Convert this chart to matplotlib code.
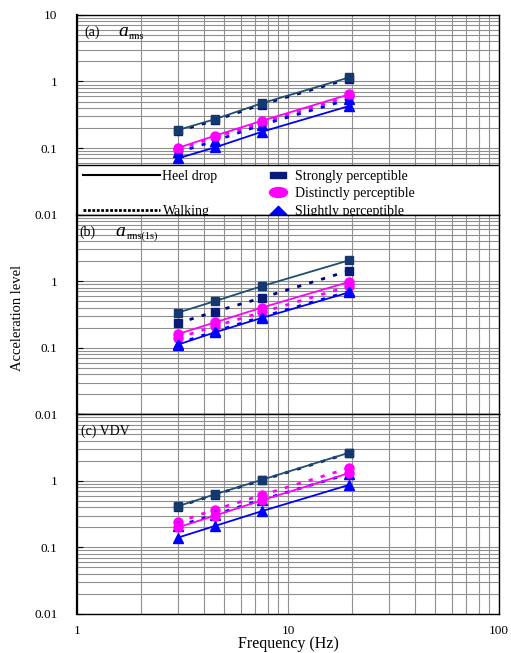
import numpy as np
import matplotlib
matplotlib.use("Agg")
import matplotlib.pyplot as plt
import matplotlib.lines as mlines
import matplotlib.patches as mpatches
from matplotlib.path import Path
from matplotlib.ticker import FixedLocator, NullFormatter, LogLocator

plt.rcParams.update({
    "font.family": "serif",
    "font.serif": ["Liberation Serif", "DejaVu Serif"],
    "mathtext.fontset": "stix",
})

# =============================
#  Data
# =============================
freq = [3, 4.5, 7.5, 19.5]

a_heel_strong = [0.186, 0.271, 0.47, 1.15]
a_walk_strong = [0.18, 0.26, 0.45, 1.10]
a_heel_dist = [0.10, 0.153, 0.256, 0.64]
a_walk_dist = [0.095, 0.145, 0.24, 0.60]
a_heel_slight = [0.070, 0.102, 0.175, 0.428]
a_walk_slight = [0.086, 0.128, 0.223, 0.54]

b_heel_strong = [0.336, 0.50, 0.84, 2.06]
b_walk_strong = [0.233, 0.348, 0.56, 1.44]
b_heel_dist = [0.16, 0.24, 0.40, 0.975]
b_walk_dist = [0.14, 0.21, 0.34, 0.84]
b_heel_slight = [0.111, 0.17, 0.28, 0.68]
b_walk_slight = [0.115, 0.176, 0.29, 0.70]

c_heel_strong = [0.415, 0.627, 1.035, 2.65]
c_walk_strong = [0.41, 0.62, 1.02, 2.62]
c_heel_dist = [0.20, 0.30, 0.51, 1.31]
c_walk_dist = [0.24, 0.37, 0.61, 1.56]
c_heel_slight = [0.14, 0.21, 0.35, 0.87]
c_walk_slight = [0.21, 0.31, 0.52, 1.28]

# panel label pieces: (prefix, symbol, subscript)
panel_titles = [("(a)", "a", "rms"), ("(b)", "a", "rms(1s)"), ("(c) VDV", "", "")]
y_ticks = [0.01, 0.1, 1, 10]
y_tick_labels = ["0.01", "0.1", "1", "10"]
x_ticks = [1, 10, 100]
x_tick_labels = ["1", "10", "100"]

panels = [
    (a_heel_strong, a_walk_strong, a_heel_dist, a_walk_dist, a_heel_slight, a_walk_slight),
    (b_heel_strong, b_walk_strong, b_heel_dist, b_walk_dist, b_heel_slight, b_walk_slight),
    (c_heel_strong, c_walk_strong, c_heel_dist, c_walk_dist, c_heel_slight, c_walk_slight),
]

# =============================
#  Styles
# =============================
col_strong_line = "#1F4E6E"
col_strong_walk = "#000080"
col_strong_mk = "#0A1A78"
col_strong_mk_heel = "#15386E"
col_dist = "#FF00FF"
col_slight = "#0000FF"
dash = (0, (1.5, 3.0))
ms = 6

fig = plt.figure(figsize=(5.11, 6.53), dpi=100)
left, width = 77 / 511, 422 / 511
h = 199.7 / 653
bottom_c = 1 - 614 / 653
axes = [fig.add_axes([left, bottom_c + (2 - i) * h, width, h]) for i in range(3)]

title_x = [(0.017, 0.097, 0.123), (0.005, 0.092, 0.118), (0.010, 0, 0)]

for i, ax in enumerate(axes):
    hs, ws, hd, wd, hsl, wsl = panels[i]
    ax.set_xscale("log")
    ax.set_yscale("log")
    ax.set_xlim(1, 100)
    ax.set_ylim(0.01, 10)

    ax.plot(freq, ws, linestyle=dash, lw=2, color=col_strong_walk,
            marker="s", ms=ms, mfc=col_strong_mk, mec=col_strong_mk, zorder=4)
    ax.plot(freq, hs, "-", lw=1.3, color=col_strong_line,
            marker="s", ms=ms, mfc=col_strong_mk_heel, mec=col_strong_mk_heel, zorder=5)
    ax.plot(freq, wd, linestyle=dash, lw=2, color=col_dist,
            marker="o", ms=ms + 0.5, mfc=col_dist, mec=col_dist, zorder=4)
    ax.plot(freq, hd, "-", lw=1.3, color=col_dist,
            marker="o", ms=ms + 0.5, mfc=col_dist, mec=col_dist, zorder=5)
    ax.plot(freq, wsl, linestyle=dash, lw=2, color=col_slight,
            marker="^", ms=ms + 0.5, mfc=col_slight, mec=col_slight, zorder=4)
    ax.plot(freq, hsl, "-", lw=1.3, color=col_slight,
            marker="^", ms=ms + 0.5, mfc=col_slight, mec=col_slight, zorder=5)

    ax.yaxis.set_major_locator(FixedLocator(y_ticks))
    labels = list(y_tick_labels) if i == 0 else y_tick_labels[:3] + [""]
    ax.set_yticklabels(labels)
    ax.yaxis.set_minor_locator(LogLocator(base=10, subs=np.arange(2, 10)))
    ax.yaxis.set_minor_formatter(NullFormatter())
    ax.xaxis.set_major_locator(FixedLocator(x_ticks))
    ax.xaxis.set_minor_locator(LogLocator(base=10, subs=np.arange(2, 10)))
    ax.xaxis.set_minor_formatter(NullFormatter())
    if i == 2:
        ax.set_xticklabels(x_tick_labels)
    else:
        ax.set_xticklabels([])

    ax.tick_params(axis="y", which="major", direction="in", length=4, pad=14, labelsize=9.5)
    ax.tick_params(axis="x", which="major", length=0, pad=8, labelsize=9.5)
    ax.tick_params(which="minor", length=0)
    ax.grid(which="both", color="#8f8f8f", lw=0.8, zorder=0)
    ax.set_axisbelow(True)
    ax.spines["left"].set_linewidth(1.6)
    for s in ["top", "right", "bottom"]:
        ax.spines[s].set_linewidth(1.0)

    pre, sym, sub = panel_titles[i]
    x0, x1, x2 = title_x[i]
    ax.text(x0, 0.895, pre, transform=ax.transAxes, fontsize=10,
            ha="left", va="baseline", zorder=10)
    if sym:
        ax.text(x1, 0.895, sym, transform=ax.transAxes, fontsize=14, style="italic",
                ha="left", va="baseline", zorder=10)
        ax.text(x2, 0.877, sub, transform=ax.transAxes, fontsize=7.5,
                ha="left", va="baseline", zorder=10)

# =============================
#  Legend (panel a)
# =============================
ax = axes[0]
ax.add_patch(mpatches.Rectangle((0, 0), 1, 0.248, transform=ax.transAxes,
                                facecolor="white", edgecolor="black", lw=1.0, zorder=8))

rect_path = Path([(-1, -0.45), (1, -0.45), (1, 0.45), (-1, 0.45), (-1, -0.45)], closed=True)
tri_path = Path([(-1, -0.5), (1, -0.5), (0, 0.5), (-1, -0.5)], closed=True)
circ = Path.unit_circle()
ell_path = Path(circ.vertices * np.array([1.0, 0.55]), circ.codes)

h_heel = mlines.Line2D([], [], color="black", lw=1.5, ls="-")
h_blank = mlines.Line2D([], [], color="none")
h_walk = mlines.Line2D([], [], color="black", lw=2.0, ls=(0, (1.0, 0.6)))
leg1 = ax.legend([h_heel, h_blank, h_walk], ["Heel drop", "", "Walking"],
                 loc="upper left", bbox_to_anchor=(0.015, 0.225), frameon=False,
                 fontsize=10, handlelength=5.5, handletextpad=0.2, labelspacing=0.32,
                 borderpad=0, borderaxespad=0)
leg1.set_zorder(9)
ax.add_artist(leg1)

m_strong = mlines.Line2D([], [], ls="none", marker=rect_path, ms=11, color=col_strong_mk)
m_dist = mlines.Line2D([], [], ls="none", marker=ell_path, ms=13, color=col_dist)
m_slight = mlines.Line2D([], [], ls="none", marker=tri_path, ms=12, color=col_slight)
leg2 = ax.legend([m_strong, m_dist, m_slight],
                 ["Strongly perceptible", "Distinctly perceptible", "Slightly perceptible"],
                 loc="upper left", bbox_to_anchor=(0.455, 0.225), frameon=False,
                 fontsize=10, handlelength=1.3, handletextpad=0.6, labelspacing=0.32,
                 borderpad=0, borderaxespad=0)
leg2.set_zorder(9)

fig.text(18 / 511, 1 - 318 / 653, "Acceleration level", rotation=90,
         ha="center", va="center", fontsize=10.5)
fig.text(288 / 511, 1 - 644 / 653, "Frequency (Hz)", ha="center", va="center", fontsize=11.5)

fig.savefig("out.png", dpi=100)
